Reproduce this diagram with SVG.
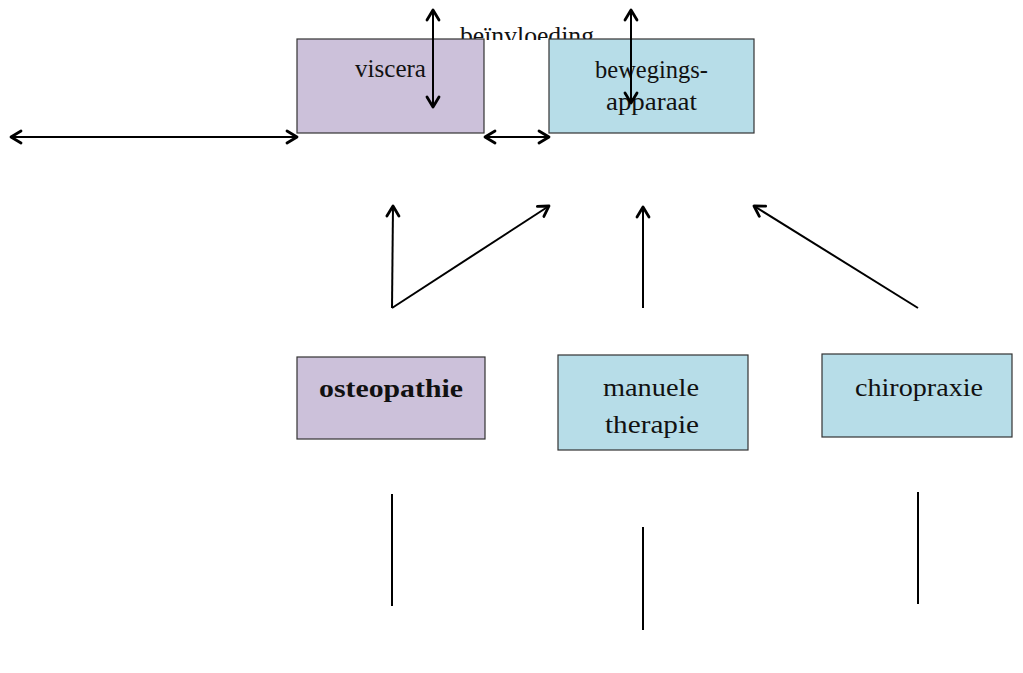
<svg xmlns="http://www.w3.org/2000/svg" width="1023" height="673" viewBox="0 0 1023 673">
<style>
.t{font-family:"Liberation Serif","DejaVu Serif",serif;font-size:26px;fill:#111;text-anchor:middle}
.b{font-weight:bold}
.lav{fill:#CCC1DA;stroke:#333;stroke-width:1.2}
.blu{fill:#B7DDE8;stroke:#333;stroke-width:1.2}
.c{stroke:#000;stroke-width:2;fill:none}
.a{marker-start:url(#ah);marker-end:url(#ah)}
.e{marker-end:url(#ah)}
</style>
<defs>
<marker id="ah" markerUnits="userSpaceOnUse" markerWidth="16" markerHeight="16" viewBox="0 0 16 16" refX="13" refY="8" orient="auto-start-reverse">
<path d="M3,2 L13,8 L3,14" fill="none" stroke="#000" stroke-width="2.8" stroke-linecap="round" stroke-linejoin="round"/>
</marker>
<clipPath id="clipTop"><rect x="0" y="0" width="1023" height="40"/></clipPath>
</defs>
<rect width="1023" height="673" fill="#fff"/>
<g id="label-beinvloeding" clip-path="url(#clipTop)"><text class="t" x="527" y="44" textLength="134" lengthAdjust="spacingAndGlyphs">beïnvloeding</text></g>
<g id="viscera"><rect class="lav" x="297" y="39" width="187" height="94"/><text class="t" x="390.5" y="77" textLength="71" lengthAdjust="spacingAndGlyphs">viscera</text></g>
<g id="bewegingsapparaat"><rect class="blu" x="549" y="39" width="205" height="94"/><text class="t" x="651.5" y="78" textLength="113" lengthAdjust="spacingAndGlyphs">bewegings-</text><text class="t" x="651.5" y="110" textLength="91" lengthAdjust="spacingAndGlyphs">apparaat</text></g>
<g id="osteopathie"><rect class="lav" x="297" y="357" width="188" height="82"/><text class="t b" x="391" y="397" textLength="144" lengthAdjust="spacingAndGlyphs">osteopathie</text></g>
<g id="manuele-therapie"><rect class="blu" x="558" y="355" width="190" height="95"/><text class="t" x="651" y="396" textLength="96" lengthAdjust="spacingAndGlyphs">manuele</text><text class="t" x="652" y="433" textLength="94" lengthAdjust="spacingAndGlyphs">therapie</text></g>
<g id="chiropraxie"><rect class="blu" x="822" y="354" width="190" height="83"/><text class="t" x="919" y="396" textLength="128" lengthAdjust="spacingAndGlyphs">chiropraxie</text></g>
<g id="connectors">
<line class="c a" x1="11" y1="137" x2="297" y2="137"/>
<line class="c a" x1="485" y1="137" x2="549" y2="137"/>
<line class="c a" x1="433" y1="10" x2="433" y2="107"/>
<line class="c a" x1="631" y1="10" x2="631" y2="103"/>
<line class="c e" x1="392" y1="308" x2="393" y2="206"/>
<line class="c e" x1="392" y1="308" x2="549" y2="206"/>
<line class="c e" x1="643" y1="308" x2="643" y2="207"/>
<line class="c e" x1="918" y1="308" x2="754" y2="206"/>
<line class="c" x1="392" y1="494" x2="392" y2="606"/>
<line class="c" x1="643" y1="527" x2="643" y2="630"/>
<line class="c" x1="918" y1="492" x2="918" y2="604"/>
</g>
</svg>
